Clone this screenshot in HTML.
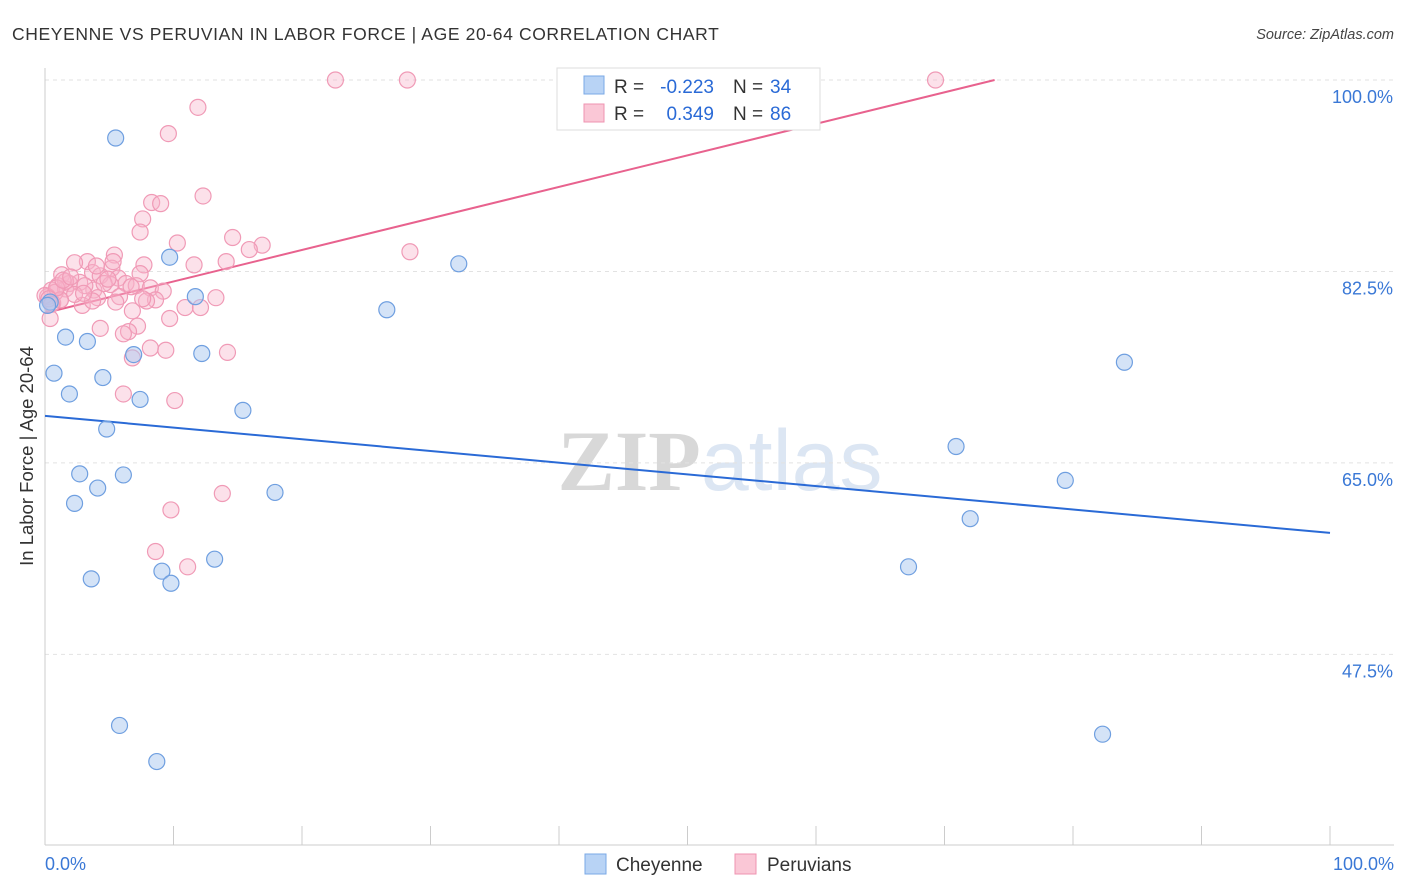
<!DOCTYPE html>
<html><head><meta charset="utf-8">
<style>
body{margin:0;background:#fff;font-family:"Liberation Sans",sans-serif;}
svg{display:block}
</style></head>
<body>
<svg width="1406" height="892" xmlns="http://www.w3.org/2000/svg" id="chart">
<text x="12" y="40" font-size="17.5" fill="#333" letter-spacing="0.62">CHEYENNE VS PERUVIAN IN LABOR FORCE | AGE 20-64 CORRELATION CHART</text>
<text x="1394" y="39" font-size="14.5" fill="#444" font-style="italic" text-anchor="end">Source: ZipAtlas.com</text>
<text x="720" y="490" font-size="86" text-anchor="middle" font-family="Liberation Serif,serif" fill="#ddd"><tspan font-weight="bold" fill="#d8d8d8">ZIP</tspan><tspan font-family="Liberation Sans,sans-serif" fill="#dce6f3">atlas</tspan></text>
<text transform="translate(33,456) rotate(-90)" font-size="18.5" fill="#333" text-anchor="middle">In Labor Force | Age 20-64</text>
<g id="grid"></g><g id="axes"></g><g id="lines"></g><g id="pts"></g>
<g>
<rect x="557" y="68" width="263" height="62" fill="#fff" stroke="#ddd"/>
<rect x="584" y="76" width="20" height="18" fill="#b8d3f5" stroke="#7aa8e6"/>
<rect x="584" y="104" width="20" height="18" fill="#fac7d6" stroke="#ef93b0"/>
<text x="614" y="93" font-size="19" fill="#333">R =</text>
<text x="714" y="93" font-size="19" fill="#2a6ad6" text-anchor="end">-0.223</text>
<text x="733" y="93" font-size="19" fill="#333">N =</text>
<text x="770" y="93" font-size="19" fill="#2a6ad6">34</text>
<text x="614" y="120" font-size="19" fill="#333">R =</text>
<text x="714" y="120" font-size="19" fill="#2a6ad6" text-anchor="end">0.349</text>
<text x="733" y="120" font-size="19" fill="#333">N =</text>
<text x="770" y="120" font-size="19" fill="#2a6ad6">86</text>
</g>
<g>
<rect x="585" y="854" width="21" height="20" fill="#b8d3f5" stroke="#7aa8e6"/>
<text x="616" y="871" font-size="19" fill="#333">Cheyenne</text>
<rect x="735" y="854" width="21" height="20" fill="#fac7d6" stroke="#ef93b0"/>
<text x="767" y="871" font-size="19" fill="#333">Peruvians</text>
</g>
</svg>
<script>
const yTicks=[100,82.5,65,47.5];
const yTickLabels=["100.0%","82.5%","65.0%","47.5%"];
const xEndLabels=["0.0%","100.0%"];
const cheyX=[5.5,1.6,3.3,0.7,4.5,1.9,7.4,4.8,2.7,6.1,4.1,2.3,3.6,9.1,9.8,13.2,17.9,15.4,12.2,9.7,11.7,6.9,0.4,26.6,32.2,5.8,8.7,67.2,70.9,72.0,79.4,84.0,82.3,0.2];
const cheyY=[94.7,76.5,76.1,73.2,72.8,71.3,70.8,68.1,64.0,63.9,62.7,61.3,54.4,55.1,54.0,56.2,62.3,69.8,75.0,83.8,80.2,74.9,79.7,79.0,83.2,41.0,37.7,55.5,66.5,59.9,63.4,74.2,40.2,79.4];
const peruX=[22.6,28.2,69.3,11.9,9.6,12.3,8.3,9.0,7.6,7.4,14.6,10.3,16.9,15.9,28.4,5.4,14.1,11.6,7.7,3.3,2.3,5.2,7.4,1.3,3.7,4.3,5.7,2.7,1.9,1.0,0.5,6.3,5.1,7.1,8.2,9.2,3.8,1.6,3.1,5.8,4.1,13.3,8.6,7.9,5.5,1.2,2.9,10.9,12.1,6.8,9.7,4.3,7.2,6.5,6.1,8.2,9.4,14.2,6.8,6.1,10.1,13.8,9.8,8.6,11.1,0.4,0.8,0.2,0.6,1.6,2.3,4.6,3.7,1.2,0.0,0.9,5.3,7.6,4.9,0.3,1.4,2.0,3.0,6.7,4.0,0.5];
const peruY=[100,100,100,97.5,95.1,89.4,88.8,88.7,87.3,86.1,85.6,85.1,84.9,84.5,84.3,84.0,83.4,83.1,83.1,83.4,83.3,82.8,82.3,82.2,82.4,82.1,81.9,81.5,81.4,81.2,80.8,81.4,81.3,81.2,81.0,80.7,80.8,80.9,81.2,80.2,80.1,80.1,79.9,79.8,79.7,79.9,79.4,79.2,79.2,78.9,78.2,77.3,77.5,77.0,76.8,75.5,75.3,75.1,74.6,71.3,70.7,62.2,60.7,56.9,55.5,78.2,80.6,80.2,79.6,81.6,80.4,81.4,79.8,79.9,80.3,81.0,83.4,80.0,81.8,80.0,81.7,82.0,80.5,81.1,83.0,79.5];
const cheyLine=[69.3,58.6];
const peruLine=[78.7,100,73.9];
const X=v=>45+v*12.85, Y=v=>80+(100-v)*10.94;
const NS="http://www.w3.org/2000/svg";
function mk(p,t,a){const e=document.createElementNS(NS,t);for(const k in a)e.setAttribute(k,a[k]);document.getElementById(p).appendChild(e);return e;}
yTicks.forEach((t,i)=>{
 const l=mk('grid','line',{x1:45,x2:1394,y1:Y(t),y2:Y(t),stroke:'#e2e2e2','stroke-dasharray':'4,4'});
 
 
 const tx=mk('grid','text',{x:1393,y:Y(t)+23,'font-size':18,fill:'#3a78d6','text-anchor':'end'});
 tx.textContent=yTickLabels[i];
 
 
});
const ax=mk('axes','line',{x1:45,x2:45,y1:68,y2:845,stroke:'#ccc'});


const bx=mk('axes','line',{x1:45,x2:1394,y1:845,y2:845,stroke:'#ccc'});


for(let i=0;i<=10;i++){
 const t=mk('axes','line',{x1:X(i*10),x2:X(i*10),y1:826,y2:845,stroke:'#ccc'});
 
 
}
[[0,'start',45],[100,'end',1394]].forEach((d,i)=>{
 const t=mk('axes','text',{x:d[2],y:870,'font-size':18,fill:'#3a78d6','text-anchor':d[1]});
 t.textContent=xEndLabels[i];
 
 
});
const bl=mk('lines','line',{x1:X(0),y1:Y(cheyLine[0]),x2:X(100),y2:Y(cheyLine[1]),stroke:'#2a6ad6','stroke-width':2});


const pl=mk('lines','line',{x1:X(0),y1:Y(peruLine[0]),x2:X(peruLine[2]),y2:Y(peruLine[1]),stroke:'#e8628e','stroke-width':2});


peruX.forEach((x,i)=>{
 const c=mk('pts','circle',{cx:X(x),cy:Y(peruY[i]),r:8,fill:'rgba(248,180,202,0.4)',stroke:'#f09ab6','stroke-width':1.2});
 
 
});
cheyX.forEach((x,i)=>{
 const c=mk('pts','circle',{cx:X(x),cy:Y(cheyY[i]),r:8,fill:'rgba(170,200,240,0.5)',stroke:'#6f9fe0','stroke-width':1.2});
 
 
});
</script>
</body></html>
